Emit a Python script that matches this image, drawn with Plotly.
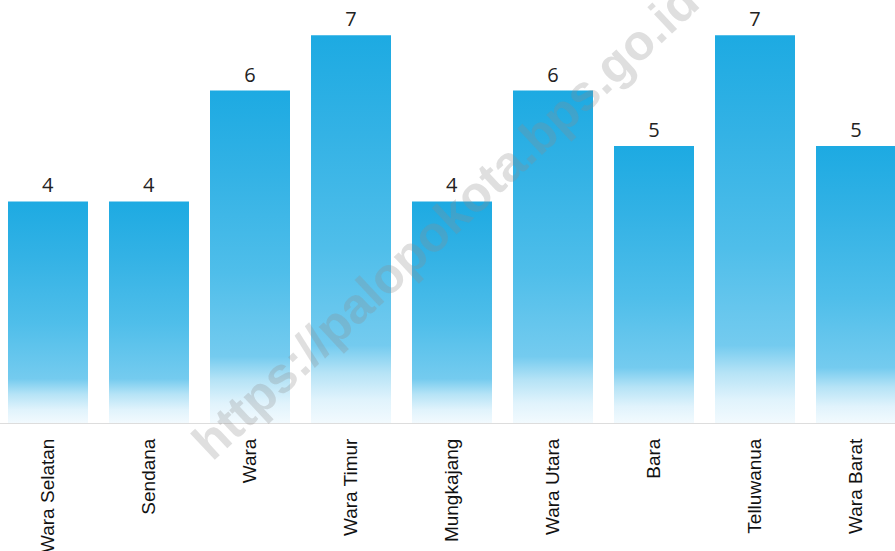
import plotly.graph_objects as go

categories = ["Wara Selatan", "Sendana", "Wara", "Wara Timur", "Mungkajang",
              "Wara Utara", "Bara", "Telluwanua", "Wara Barat"]
values = [4, 4, 6, 7, 4, 6, 5, 7, 5]

W, H = 895, 551
bar_w = 80 / 101
x_pos = list(range(len(categories)))

grad = [[0.0, "#F2FAFE"], [0.06, "#E0F3FC"], [0.13, "#B5E3F6"], [0.2, "#74CBEF"],
        [0.45, "#4FBEEA"], [0.75, "#33B2E5"], [1.0, "#1DAAE2"]]

fig = go.Figure()

# bar trace carries the value labels
fig.add_trace(go.Bar(
    x=x_pos, y=values, width=bar_w,
    marker=dict(color="rgba(0,0,0,0)", line=dict(width=0)),
    text=[str(v) for v in values], textposition="outside",
    textfont=dict(family="Open Sans, DejaVu Sans", size=20, color="#222222"),
    cliponaxis=False, showlegend=False, hoverinfo="skip",
))

# gradient-filled bars
for xi, v in zip(x_pos, values):
    x0, x1 = xi - bar_w / 2, xi + bar_w / 2
    fig.add_trace(go.Scatter(
        x=[x0, x1, x1, x0, x0], y=[0, 0, v, v, 0],
        mode="lines", line=dict(width=0), fill="toself",
        fillgradient=dict(type="vertical", colorscale=grad, start=0, stop=v),
        showlegend=False, hoverinfo="skip",
    ))

x0r = -48 / 101
fig.update_layout(
    width=W, height=H,
    margin=dict(l=0, r=0, t=0, b=128, autoexpand=False),
    paper_bgcolor="white", plot_bgcolor="white",
    bargap=0,
    xaxis=dict(
        range=[x0r, x0r + W / 101], tickmode="array", tickvals=x_pos, ticktext=categories,
        tickangle=-90, showgrid=False, zeroline=False, showline=True, automargin=False,
        linecolor="#dddddd", linewidth=1, ticks="", ticklabelstandoff=7,
        tickfont=dict(family="Liberation Sans, Arial, sans-serif", size=19, color="#111111"),
    ),
    yaxis=dict(range=[0, 423 / 55.4], visible=False, showgrid=False, zeroline=False, automargin=False),
    annotations=[dict(
        text="<b>https://palopokota.bps.go.id</b>", xref="paper", yref="paper",
        x=445 / W, y=(423 - 222) / 423, xanchor="center", yanchor="middle",
        textangle=-43, showarrow=False,
        font=dict(family="Liberation Sans, Arial, sans-serif", size=50, color="rgba(140,140,140,0.28)"),
    )],
)

fig.write_html("out.html", config={"displayModeBar": False},
               post_script="document.body.style.margin='0';document.body.style.overflow='hidden';")
